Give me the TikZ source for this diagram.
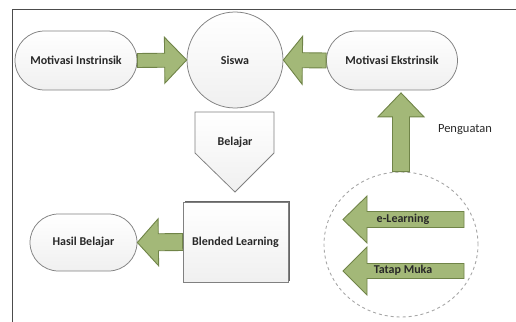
\documentclass[tikz,border=0pt]{standalone}
\usepackage{fontspec}
\setmainfont{Carlito}
\usetikzlibrary{shapes.misc,shapes.geometric,calc,shadows}

\tikzset{every picture/.style={line width=0.75pt}}
\definecolor{arrowfill}{RGB}{163,184,120}
\definecolor{arrowline}{RGB}{112,132,72}
\definecolor{boxline}{RGB}{128,128,128}
\definecolor{textgray}{RGB}{40,40,40}
\tikzset{
  boxfill/.style={draw=boxline, top color=white, bottom color=gray!12},
  lbl/.style={font=\bfseries\fontsize{12}{14}\selectfont, text=textgray},
  stadium/.style={rounded rectangle, boxfill, lbl, inner sep=0pt},
  blockarr/.style={draw=arrowline, fill=arrowfill, line width=0.9pt, line join=miter}
}

% block arrow: tail, tip, body half width, head half width, head length
\newcommand{\blockarrow}[5]{%
  \coordinate (ba-base) at ($(#2)!#5!(#1)$);
  \draw[blockarr] ($(#1)!#3!90:(#2)$) -- ($(ba-base)!#3!90:(#2)$) -- ($(ba-base)!#4!90:(#2)$) -- (#2)
    -- ($(ba-base)!#4!-90:(#2)$) -- ($(ba-base)!#3!-90:(#2)$) -- ($(#1)!#3!-90:(#2)$) -- cycle;
}

\begin{document}
\begin{tikzpicture}[x=1pt,y=1pt,yscale=-1,xscale=1]
  \useasboundingbox (0,0) rectangle (516,321);
  % frame
  \draw [color=black!70, line width=1pt] (12,330) -- (12,10) -- (525,10);

  % nodes
  \node [stadium, minimum width=122, minimum height=59] (intrinsik) at (76,60.5) {Motivasi Instrinsik};
  \node [circle, boxfill, lbl, minimum size=96, inner sep=0pt] (siswa) at (235,60) {Siswa};
  \node [stadium, minimum width=131, minimum height=59] (ekstrinsik) at (392,60.5) {Motivasi Ekstrinsik};
  \node [stadium, minimum width=107, minimum height=57] (hasil) at (83.5,242.5) {Hasil Belajar};
  \node [rectangle, boxfill, lbl, minimum width=105, minimum height=80, inner sep=0pt,
         drop shadow={shadow xshift=1.5pt, shadow yshift=1.5pt, fill=black!60, opacity=1}] (blended) at (235.5,242) {Blended Learning};
  \node [ellipse, draw=black!35, dashed, line width=0.9pt, minimum width=154, minimum height=145, inner sep=0pt] (media) at (401,244.5) {};

  % Belajar
  \draw [boxfill] (195,112) -- (274,112) -- (274,153) -- (235,192) -- (195,153) -- cycle;
  \node [lbl] (belajar) at (235,142) {Belajar};

  % arrows
  \blockarrow{intrinsik.east}{siswa.west}{7pt}{23pt}{22pt}
  \blockarrow{ekstrinsik.west}{siswa.east}{7.5pt}{24pt}{19pt}
  \coordinate (upTip) at ($(media.north |- ekstrinsik.south)+(0,2.5)$);
  \blockarrow{media.north}{upTip}{8.5pt}{23pt}{24pt}
  \blockarrow{blended.west}{hasil.east}{8.5pt}{23.5pt}{21pt}

  \coordinate (elTail) at (464,219.5);
  \coordinate (elTip) at (343,219.5);
  \blockarrow{elTail}{elTip}{8pt}{23.5pt}{24pt}
  \node [lbl] (elearning) at (403,219) {e-Learning};

  \coordinate (tmTail) at (464,271);
  \coordinate (tmTip) at (343,271);
  \blockarrow{tmTail}{tmTip}{7.5pt}{24pt}{24pt}
  \node [lbl] (tatapmuka) at (403,270.5) {Tatap Muka};

  \node [font=\fontsize{12.5}{15}\selectfont, text=textgray] (penguatan) at (465,130) {Penguatan};
\end{tikzpicture}
\end{document}
